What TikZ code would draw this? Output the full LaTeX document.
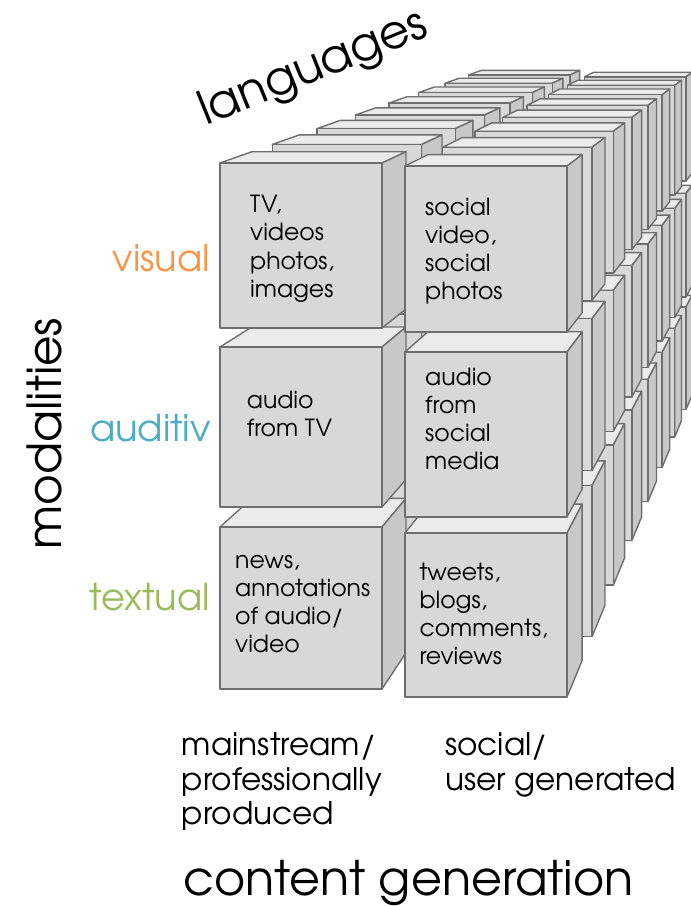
\documentclass[tikz,border=0pt]{standalone}
\usepackage{fontspec}
\setmainfont{texgyreadventor-regular.otf}
\usetikzlibrary{calc}
\definecolor{edgec}{HTML}{6E6E6E}
\definecolor{frontc}{HTML}{D8D8D8}
\definecolor{topc}{HTML}{EBEBEB}
\definecolor{sidec}{HTML}{C8C8C8}
\definecolor{vis}{HTML}{F79646}
\definecolor{aud}{HTML}{4BACC6}
\definecolor{txt}{HTML}{9BBB59}
\newlength\fitlen
\newsavebox\fitbox
\newcommand\setfit[3]{\sbox\fitbox{\fontsize{10pt}{12pt}\selectfont #3}\setlength\fitlen{\wd\fitbox}\pgfmathsetmacro#1{10*#2/\fitlen}\global\let#1#1}
\newcommand\txtlines[3]{{\fontsize{#1pt}{#2pt}\selectfont\begin{tabular}[t]{@{}l@{}}#3\end{tabular}}}
\newcommand\txtone[2]{{\fontsize{#1pt}{#1pt}\selectfont #2}}
\begin{document}
\setfit\cubesz{135}{annotations}%
\setfit\colsz{200}{professionally}%
\setfit\bigsz{450}{content generation}%
\setfit\rowsz{120}{textual}%
\setfit\modsz{232}{modalities}%
\setfit\langsz{242}{languages}%
\begin{tikzpicture}[x=1pt,y=-1pt,
  face/.style={draw=edgec, line width=1.4pt, line join=round},
  topf/.style={face, fill=topc},
  sidef/.style={face, fill=sidec},
  frontf/.style={face, fill=frontc},
  lbl/.style={inner sep=0pt, text=black}]
\useasboundingbox (0,0) rectangle (691,906);
\clip (0,0) rectangle (691,906);
\coordinate (vp) at (886,-73);
% cubes, back to front
\foreach \k in {7,6,...,0}{
  \pgfmathsetmacro\sa{1/(1+0.085*\k)}
  \pgfmathsetmacro\sb{1/(1+0.085*\k+0.05)}
  \foreach \ya/\yb/\yc/\yd in {527/689/533/697, 347/507/352/517, 163/328/166/332}{
    \foreach \xa/\xb/\ta/\tb in {220/382/\ya/\yb, 405/567/\yc/\yd}{
      \coordinate (fA) at ($(vp)!\sa!(\xa,\ta)$);
      \coordinate (fB) at ($(vp)!\sa!(\xb,\ta)$);
      \coordinate (fC) at ($(vp)!\sa!(\xb,\tb)$);
      \coordinate (fD) at ($(vp)!\sa!(\xa,\tb)$);
      \coordinate (bA) at ($(vp)!\sb!(\xa,\ta)$);
      \coordinate (bB) at ($(vp)!\sb!(\xb,\ta)$);
      \coordinate (bC) at ($(vp)!\sb!(\xb,\tb)$);
      \draw[topf] (fA) -- (fB) -- (bB) -- (bA) -- cycle;
      \draw[sidef] (fB) -- (fC) -- (bC) -- (bB) -- cycle;
      \draw[frontf] (fA) -- (fB) -- (fC) -- (fD) -- cycle;
    }
  }
}
% texts in the front cubes
\node[lbl, anchor=base west] (vm) at (250,212.7) {\txtlines{\cubesz}{28.2}{TV,\\videos\\photos,\\images}};
\node[lbl, anchor=base west] (vs) at (425,215) {\txtlines{\cubesz}{28.2}{social\\video,\\social\\photos}};
\node[lbl, anchor=base west] (am) at (246.7,408.3) {\txtlines{\cubesz}{28.2}{audio\\from TV}};
\node[lbl, anchor=base west] (as) at (425,385) {\txtlines{\cubesz}{28.2}{audio\\from\\social\\media}};
\node[lbl, anchor=base west] (tm) at (235,568.3) {\txtlines{\cubesz}{28.2}{news,\\annotations\\of audio/\\video}};
\node[lbl, anchor=base west] (ts) at (419.3,580) {\txtlines{\cubesz}{28.2}{tweets,\\blogs,\\comments,\\reviews}};
% row labels
\node[lbl, anchor=base east, text=vis] (lvis) at (210,271.7) {\txtone{\rowsz}{visual}};
\node[lbl, anchor=base east, text=aud] (laud) at (211,441.7) {\txtone{\rowsz}{auditiv}};
\node[lbl, anchor=base east, text=txt] (ltxt) at (210,610) {\txtone{\rowsz}{textual}};
% column labels
\node[lbl, anchor=base west] (cmain) at (181.7,755.5) {\txtlines{\colsz}{34.5}{mainstream/\\professionally\\produced}};
\node[lbl, anchor=base west] (csoc) at (445,755.5) {\txtlines{\colsz}{34.5}{social/\\user generated}};
% axis titles
\node[lbl, anchor=base west] (cgen) at (183.3,895) {\txtone{\bigsz}{content generation}};
\node[lbl, anchor=base west, rotate=90] (mod) at (61,550) {\txtone{\modsz}{modalities}};
\node[lbl, anchor=base west, rotate=22] (lang) at (206,126) {\txtone{\langsz}{languages}};
\end{tikzpicture}
\end{document}
